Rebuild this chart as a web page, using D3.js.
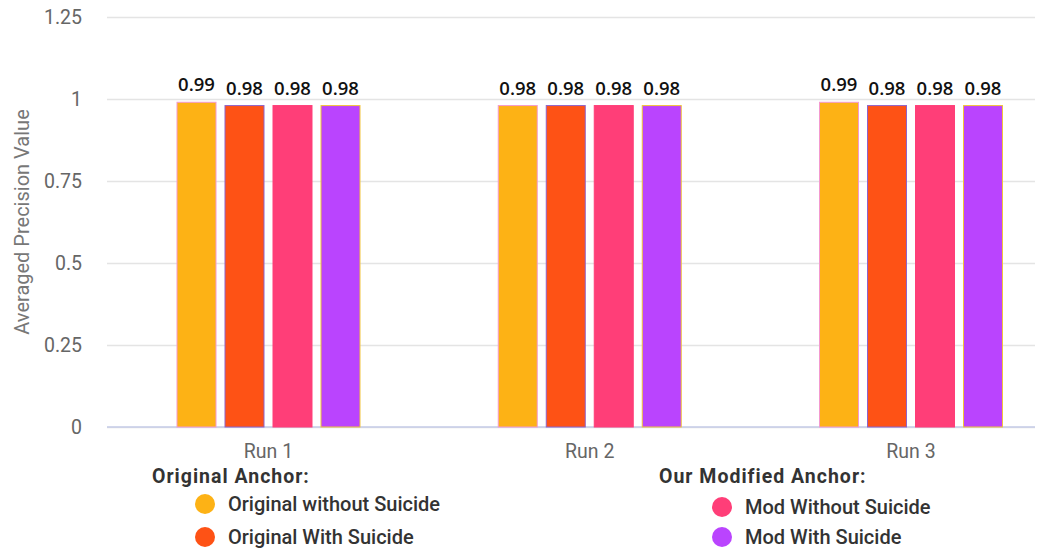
<!DOCTYPE html>
<html>
<head>
<meta charset="utf-8">
<script src="https://cdn.jsdelivr.net/npm/d3@7"></script>
<style>
  html, body { margin: 0; padding: 0; background: #fff; }
  svg { display: block; }
</style>
</head>
<body>
<svg id="chart" width="1043" height="548"></svg>
<script>
// Averaged precision per run, for each anchor variant
const runs = ["Run 1", "Run 2", "Run 3"];
const seriesNames = ["Original without Suicide", "Original With Suicide", "Mod Without Suicide", "Mod With Suicide"];
const originalWithout = [0.99, 0.98, 0.99];
const originalWith = [0.98, 0.98, 0.98];
const modWithout = [0.98, 0.98, 0.98];
const modWith = [0.98, 0.98, 0.98];
const yTicks = [0, 0.25, 0.5, 0.75, 1, 1.25];
const legendGroups = [
  { title: "Original Anchor:", members: [0, 1] },
  { title: "Our Modified Anchor:", members: [2, 3] }
];

const seriesValues = [originalWithout, originalWith, modWithout, modWith];
const colors = ["#FDB215", "#FE5215", "#FF3E78", "#BA44FE"];
const strokes = ["#F39AD0", "#8E63C9", "#FF3E78", "#F2C43A"];

const svg = d3.select("#chart");
const plot = { left: 107, right: 1035, top: 17, bottom: 427 };
const grayFont = "19.5px";

const y = d3.scaleLinear().domain([0, 1.25]).range([plot.bottom, plot.top]);
const x = d3.scalePoint().domain(runs).range([268.5, 911]);
const inner = d3.scaleBand().domain(d3.range(seriesNames.length)).range([-91.5, 91.5]).paddingInner(0.1875).paddingOuter(0);

// Horizontal grid and y tick labels
const yAxis = d3.axisLeft(y).tickValues(yTicks).tickSize(-(plot.right - plot.left)).tickFormat(d => d3.format("")(d)).tickPadding(25);
const gy = svg.append("g").attr("transform", `translate(${plot.left},0)`).call(yAxis);
gy.select(".domain").remove();
gy.selectAll(".tick line").attr("stroke", "#e4e4e4").attr("stroke-width", 1.5);
gy.selectAll(".tick text")
  .attr("fill", "#666").style("font-family", "Roboto, sans-serif").style("font-size", grayFont);

// Baseline
svg.append("line")
  .attr("x1", plot.left).attr("x2", plot.right)
  .attr("y1", y(0)).attr("y2", y(0))
  .attr("stroke", "#c6cce9").attr("stroke-width", 1.5);

// Y axis title
svg.append("text")
  .attr("transform", `translate(29,222) rotate(-90)`)
  .attr("text-anchor", "middle")
  .attr("fill", "#777")
  .style("font-family", "Roboto, sans-serif").style("font-size", "20px")
  .text("Averaged Precision Value");

// Bars with value labels
const groups = svg.append("g").selectAll("g").data(runs).join("g")
  .attr("transform", d => `translate(${x(d)},0)`);

groups.each(function(run, ri) {
  const g = d3.select(this);
  seriesValues.forEach((vals, si) => {
    const v = vals[ri];
    g.append("rect")
      .attr("x", inner(si)).attr("width", inner.bandwidth())
      .attr("y", y(v)).attr("height", y(0) - y(v))
      .attr("fill", colors[si])
      .attr("stroke", strokes[si]).attr("stroke-width", 1);
    g.append("text")
      .attr("x", inner(si) + inner.bandwidth() / 2)
      .attr("y", y(v) - 11)
      .attr("text-anchor", "middle")
      .attr("fill", "#111")
      .style("font-family", "'Open Sans', sans-serif").style("font-weight", 600).style("font-size", "18.5px")
      .text(d3.format(".2f")(v));
  });
});

// X labels
svg.append("g").selectAll("text").data(runs).join("text")
  .attr("x", d => x(d)).attr("y", 458)
  .attr("text-anchor", "middle")
  .attr("fill", "#666")
  .style("font-family", "Roboto, sans-serif").style("font-size", grayFont)
  .text(d => d);

// Legend
const legendPos = [
  { tx: 152, ty: 483, cx: 205, rows: [504, 537] },
  { tx: 659, ty: 483, cx: 722, rows: [507, 537] }
];
legendGroups.forEach((lg, i) => {
  const p = legendPos[i];
  svg.append("text")
    .attr("x", p.tx).attr("y", p.ty)
    .attr("fill", "#333")
    .style("font-family", "Roboto, sans-serif").style("font-weight", 700)
    .style("font-size", "19.5px").style("letter-spacing", "1px")
    .text(lg.title);
  lg.members.forEach((si, k) => {
    svg.append("circle")
      .attr("cx", p.cx).attr("cy", p.rows[k]).attr("r", 10)
      .attr("fill", colors[si]);
    svg.append("text")
      .attr("x", p.cx + 23).attr("y", p.rows[k] + 7)
      .attr("fill", "#333")
      .style("font-family", "Roboto, sans-serif").style("font-weight", 500).style("font-size", "20px")
      .text(seriesNames[si]);
  });
});
</script>
</body>
</html>
